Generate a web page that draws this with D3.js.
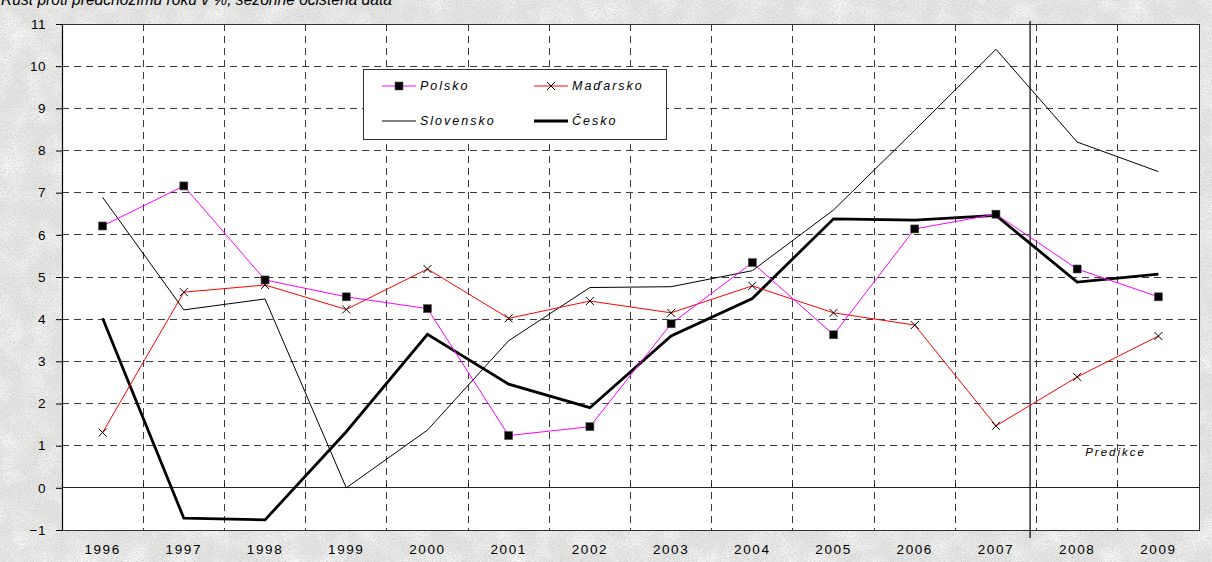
<!DOCTYPE html>
<html lang="cs">
<head>
<meta charset="utf-8">
<script src="https://cdn.jsdelivr.net/npm/d3@7"></script>
<style>
  html, body { margin: 0; padding: 0; background: #e9e9e8; }
  svg { display: block; }
  text { font-family: "Liberation Sans", Arial, sans-serif; }
</style>
</head>
<body>
<svg id="chart" width="1212" height="562"></svg>
<script>
// Meziroční růst HDP (%) – Visegrádská čtyřka, 2008–2009 predikce
const years = [1996, 1997, 1998, 1999, 2000, 2001, 2002, 2003, 2004, 2005, 2006, 2007, 2008, 2009];
const polsko    = [6.21, 7.16, 4.93, 4.53, 4.25, 1.24, 1.45, 3.89, 5.34, 3.63, 6.14, 6.49, 5.19, 4.53];
const madarsko  = [1.31, 4.64, 4.81, 4.23, 5.19, 4.02, 4.43, 4.15, 4.79, 4.15, 3.86, 1.47, 2.63, 3.60];
const slovensko = [6.89, 4.22, 4.48, 0.00, 1.37, 3.49, 4.75, 4.77, 5.15, 6.59, 8.48, 10.40, 8.20, 7.50];
const cesko     = [4.02, -0.72, -0.76, 1.33, 3.64, 2.46, 1.90, 3.60, 4.49, 6.38, 6.35, 6.46, 4.88, 5.07];
const yTicks = [-1, 0, 1, 2, 3, 4, 5, 6, 7, 8, 9, 10, 11];
const titleText = "Růst proti předchozímu roku v %, sezónně očištěná data";
const predictionLabel = "Predikce";
const firstPredictionYear = 2008; // svislá čára těsně před prvním rokem predikce

const svg = d3.select("#chart");
const W = 1212, H = 562;
const plot = { left: 62, right: 1199, top: 24, bottom: 530 };

// Zrnité pozadí
const defs = svg.append("defs");
const grain = defs.append("filter").attr("id", "grain")
  .attr("x", 0).attr("y", 0).attr("width", "100%").attr("height", "100%");
grain.append("feTurbulence").attr("type", "fractalNoise")
  .attr("baseFrequency", 0.75).attr("numOctaves", 4).attr("seed", 7).attr("result", "n");
grain.append("feColorMatrix").attr("in", "n").attr("type", "matrix")
  .attr("values", "0 0 0 0 0.6  0 0 0 0 0.6  0 0 0 0 0.6  2.4 0 0 0 -1.0");
const grain2 = defs.append("filter").attr("id", "blotch")
  .attr("x", 0).attr("y", 0).attr("width", "100%").attr("height", "100%");
grain2.append("feTurbulence").attr("type", "fractalNoise")
  .attr("baseFrequency", 0.04).attr("numOctaves", 2).attr("seed", 3).attr("result", "n");
grain2.append("feColorMatrix").attr("in", "n").attr("type", "matrix")
  .attr("values", "0 0 0 0 1  0 0 0 0 1  0 0 0 0 1  1.8 0 0 0 -0.7");
svg.append("rect").attr("width", W).attr("height", H).attr("fill", "#e6e6e5");
svg.append("rect").attr("width", W).attr("height", H).attr("filter", "url(#blotch)");
svg.append("rect").attr("width", W).attr("height", H).attr("filter", "url(#grain)");

// Nadpis (oříznutý horním okrajem)
svg.append("text")
  .attr("x", 1).attr("y", 5)
  .attr("font-family", "'Liberation Serif', 'Times New Roman', serif")
  .attr("font-style", "italic").attr("font-size", 15.6).attr("fill", "#000")
  .text(titleText);

// Škály
const x = d3.scaleBand().domain(years).range([plot.left, plot.right]).padding(0);
const y = d3.scaleLinear().domain([-1, 11]).range([plot.bottom, plot.top]);
const xc = d => x(d) + x.bandwidth() / 2;

// Plocha grafu
svg.append("rect")
  .attr("x", plot.left).attr("y", plot.top)
  .attr("width", plot.right - plot.left).attr("height", plot.bottom - plot.top)
  .attr("fill", "#fff");

const grid = svg.append("g");
// Vodorovná mřížka (čárkovaná)
grid.selectAll("line.h").data(yTicks.filter(v => v !== 0 && v !== -1 && v !== 11)).join("line")
  .attr("x1", plot.left).attr("x2", plot.right)
  .attr("y1", d => y(d)).attr("y2", d => y(d))
  .attr("stroke", "#3c3c3c").attr("stroke-width", 1).attr("stroke-dasharray", "7,5")
  .attr("shape-rendering", "crispEdges");
// Svislá mřížka na hranicích kategorií
grid.selectAll("line.v").data(years.slice(1)).join("line")
  .attr("x1", d => x(d)).attr("x2", d => x(d))
  .attr("y1", plot.top).attr("y2", plot.bottom)
  .attr("stroke", "#3c3c3c").attr("stroke-width", 1).attr("stroke-dasharray", "7,5")
  .attr("shape-rendering", "crispEdges");

// Rámeček plochy
svg.append("path")
  .attr("d", `M${plot.left},${plot.top}H${plot.right}V${plot.bottom}H${plot.left}`)
  .attr("fill", "none").attr("stroke", "#333").attr("stroke-width", 1)
  .attr("shape-rendering", "crispEdges");

// Osa Y
const yAxis = d3.axisLeft(y).tickValues(yTicks).tickSize(6).tickPadding(10).tickFormat(d3.format("d"));
const gy = svg.append("g").attr("transform", `translate(${plot.left},0)`).call(yAxis);
gy.select(".domain").attr("stroke", "#000").attr("stroke-width", 1.2);
gy.selectAll(".tick line").attr("stroke", "#000");
gy.selectAll(".tick text").attr("font-size", 13.5).attr("fill", "#000")
  .attr("font-family", "'Liberation Sans', Arial, sans-serif").attr("letter-spacing", "0.5px");

// Kategoriální osa procházející nulou
const zeroY = y(0);
svg.append("line")
  .attr("x1", plot.left).attr("x2", plot.right).attr("y1", zeroY).attr("y2", zeroY)
  .attr("stroke", "#222").attr("stroke-width", 1).attr("shape-rendering", "crispEdges");
svg.append("g").selectAll("line").data(years.slice(1)).join("line")
  .attr("x1", d => x(d)).attr("x2", d => x(d))
  .attr("y1", zeroY - 5).attr("y2", zeroY)
  .attr("stroke", "#222").attr("shape-rendering", "crispEdges");

// Popisky let pod grafem
const xAxis = d3.axisBottom(x).tickSize(0).tickPadding(0);
const gx = svg.append("g").attr("transform", `translate(0,${plot.bottom + 14})`).call(xAxis);
gx.select(".domain").remove();
gx.selectAll(".tick text").attr("font-size", 13.5).attr("fill", "#000")
  .attr("font-family", "'Liberation Sans', Arial, sans-serif").attr("letter-spacing", "1.6px")
  .attr("dy", "0.71em");

// Čára začátku predikce
const predX = x(firstPredictionYear) - x.bandwidth() * 0.08;
svg.append("line")
  .attr("x1", predX).attr("x2", predX).attr("y1", plot.top - 3).attr("y2", plot.bottom + 8)
  .attr("stroke", "#000").attr("stroke-width", 1.2);

// Řady
const line = d3.line().x((d, i) => xc(years[i])).y(d => y(d));
const series = [
  { name: "Polsko", values: polsko, color: "#ff00ff", width: 1, marker: "square" },
  { name: "Maďarsko", values: madarsko, color: "#ff0000", width: 1, marker: "cross" },
  { name: "Slovensko", values: slovensko, color: "#000000", width: 1, marker: null },
  { name: "Česko", values: cesko, color: "#000000", width: 2.8, marker: null }
];
const drawOrder = [series[2], series[3], series[1], series[0]];
drawOrder.forEach(s => {
  svg.append("path").datum(s.values)
    .attr("d", line).attr("fill", "none")
    .attr("stroke", s.color).attr("stroke-width", s.width)
    .attr("stroke-linejoin", "miter");
});

function drawMarker(g, type, cx, cy) {
  if (type === "square") {
    g.append("rect").attr("x", cx - 4).attr("y", cy - 4).attr("width", 8).attr("height", 8)
      .attr("fill", "#000").attr("stroke", "#555").attr("stroke-width", 0.6);
  } else if (type === "cross") {
    g.append("path")
      .attr("d", `M${cx - 4},${cy - 4}L${cx + 4},${cy + 4}M${cx - 4},${cy + 4}L${cx + 4},${cy - 4}`)
      .attr("stroke", "#000").attr("stroke-width", 1).attr("fill", "none");
  }
}
const markers = svg.append("g");
[series[1], series[0]].forEach(s => {
  s.values.forEach((v, i) => drawMarker(markers, s.marker, xc(years[i]), y(v)));
});

// Legenda
const leg = svg.append("g").attr("transform", "translate(363,69)");
leg.append("rect").attr("x", 0).attr("y", 0).attr("width", 303).attr("height", 70)
  .attr("fill", "#fff").attr("stroke", "#333").attr("stroke-width", 1).attr("shape-rendering", "crispEdges");
const legPos = [[19, 17], [171, 17], [19, 52], [171, 52]];
series.forEach((s, i) => {
  const [lx, ly] = legPos[i];
  const g = leg.append("g").attr("transform", `translate(${lx},${ly})`);
  g.append("line").attr("x1", 0).attr("x2", 34).attr("y1", 0).attr("y2", 0)
    .attr("stroke", s.color).attr("stroke-width", s.width);
  drawMarker(g, s.marker, 17, 0);
  g.append("text").attr("x", 38).attr("y", 0).attr("dy", "0.35em")
    .attr("font-size", 12.5).attr("font-style", "italic").attr("letter-spacing", "2px")
    .attr("fill", "#000").text(s.name);
});

// Popisek predikce
svg.append("text")
  .attr("x", (predX + plot.right) / 2 + 1).attr("y", y(0.85))
  .attr("text-anchor", "middle").attr("dy", "0.35em")
  .attr("font-size", 11.5).attr("font-style", "italic").attr("letter-spacing", "2px")
  .attr("fill", "#000").text(predictionLabel);
</script>
</body>
</html>
